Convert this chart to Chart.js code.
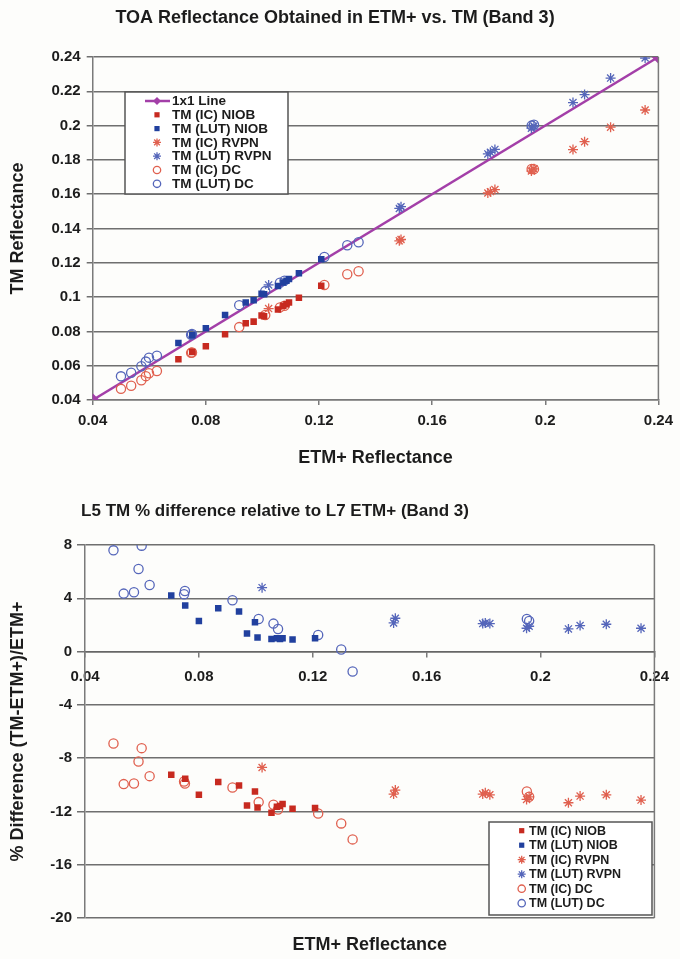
<!DOCTYPE html>
<html>
<head>
<meta charset="utf-8">
<script src="https://cdn.jsdelivr.net/npm/chart.js@4.4.1/dist/chart.umd.min.js"></script>
<style>
  html, body { margin: 0; padding: 0; background: #fdfdfb; }
  canvas { display: block; }
</style>
</head>
<body>
<canvas id="toaChart" width="680" height="490"></canvas>
<canvas id="diffChart" width="680" height="469"></canvas>
<script>
// ---- values ----
const xTicks = [0.04, 0.08, 0.12, 0.16, 0.2, 0.24];
const toaTicks = [0.04, 0.06, 0.08, 0.1, 0.12, 0.14, 0.16, 0.18, 0.2, 0.22, 0.24];
const diffTicks = [-20, -16, -12, -8, -4, 0, 4, 8];

const oneToOneX = [0.04, 0.24];
const oneToOneY = [0.04, 0.24];

// NIOB site
const niobX = [0.0703, 0.0752, 0.0800, 0.0868, 0.0941, 0.0969, 0.0997, 0.1006, 0.1055, 0.1074, 0.1085, 0.1094, 0.1129, 0.1208];
const icNiobY = [0.0638, 0.0680, 0.0714, 0.0783, 0.0847, 0.0857, 0.0892, 0.0888, 0.0927, 0.0949, 0.0959, 0.0969, 0.0996, 0.1066];
const lutNiobY = [0.0733, 0.0778, 0.0818, 0.0896, 0.0969, 0.0982, 0.1019, 0.1016, 0.1065, 0.1085, 0.1095, 0.1105, 0.1139, 0.1220];
const icNiobDiff = [-9.25, -9.55, -10.75, -9.8, -10.05, -11.55, -10.5, -11.7, -12.1, -11.65, -11.6, -11.45, -11.8, -11.75];
const lutNiobDiff = [4.2, 3.45, 2.3, 3.25, 3.0, 1.35, 2.2, 1.05, 0.95, 1.0, 0.95, 1.0, 0.9, 1.0];

// RVPN site
const rvpnX = [0.1022, 0.1484, 0.1490, 0.1797, 0.1806, 0.1822, 0.1951, 0.1960, 0.2098, 0.2139, 0.2231, 0.2353];
const icRvpnY = [0.0933, 0.1328, 0.1336, 0.1607, 0.1615, 0.1627, 0.1735, 0.1748, 0.1860, 0.1906, 0.1991, 0.2091];
const lutRvpnY = [0.1071, 0.1517, 0.1527, 0.1835, 0.1844, 0.1861, 0.1985, 0.1997, 0.2134, 0.2181, 0.2277, 0.2394];
const icRvpnDiff = [-8.7, -10.7, -10.4, -10.7, -10.6, -10.75, -11.1, -10.9, -11.35, -10.85, -10.75, -11.15];
const lutRvpnDiff = [4.8, 2.15, 2.5, 2.1, 2.15, 2.1, 1.75, 1.9, 1.7, 1.95, 2.05, 1.75];

// DC site
const dcX = [0.0500, 0.0536, 0.0572, 0.0588, 0.0599, 0.0627, 0.0748, 0.0751, 0.0918, 0.1010, 0.1062, 0.1078, 0.1219, 0.1300, 0.1340, 0.1952, 0.1960];
const icDcY = [0.0465, 0.0483, 0.0515, 0.0539, 0.0556, 0.0569, 0.0675, 0.0677, 0.0825, 0.0896, 0.0940, 0.0950, 0.1071, 0.1133, 0.1151, 0.1747, 0.1746];
const lutDcY = [0.0538, 0.0559, 0.0597, 0.0624, 0.0647, 0.0658, 0.0780, 0.0785, 0.0953, 0.1035, 0.1084, 0.1096, 0.1234, 0.1302, 0.1320, 0.2000, 0.2005];
const icDcDiff = [-6.9, -9.95, -9.9, -8.25, -7.25, -9.35, -9.75, -9.9, -10.2, -11.3, -11.5, -11.85, -12.15, -12.9, -14.1, -10.5, -10.9];
const lutDcDiff = [7.6, 4.35, 4.45, 6.2, 7.95, 5.0, 4.3, 4.55, 3.85, 2.45, 2.1, 1.7, 1.25, 0.15, -1.5, 2.45, 2.3];

// ---- styling ----
const FONT = '"Liberation Sans", Arial, sans-serif';
const TEXT = '#1c1c1c';
const GRID = '#6f6f6f';
const AXIS = '#7a7a7a';
const RED = '#c72a20';
const BLUE = '#21409e';
const RED_LIGHT = '#e0604f';
const BLUE_LIGHT = '#5566ba';
const LINE = '#a33fa8';

const pts = (xs, ys) => xs.map((x, i) => ({ x: x, y: ys[i] }));
const fmt = v => String(Math.round(v * 100) / 100);
const markerSize = { rect: 4.6, star: 5, circle: 4.6 };

function series(label, data, color, style) {
  const filled = style === 'rect';
  return {
    label: label,
    data: data,
    pointStyle: style,
    pointRadius: markerSize[style],
    pointHoverRadius: markerSize[style],
    borderColor: color,
    backgroundColor: filled ? color : 'rgba(0,0,0,0)',
    borderWidth: filled ? 0 : 1.3
  };
}

// heading, right-hand frame line and the boxed legend inside the plot
const boxLegend = {
  id: 'boxLegend',
  afterDraw(chart, args, o) {
    const ctx = chart.ctx;
    const a = chart.chartArea;
    ctx.save();
    ctx.strokeStyle = AXIS;
    ctx.lineWidth = 1.5;
    ctx.beginPath();
    ctx.moveTo(a.right, a.top);
    ctx.lineTo(a.right, a.bottom);
    ctx.stroke();

    ctx.fillStyle = TEXT;
    ctx.font = 'bold ' + o.titleSize + 'px ' + FONT;
    ctx.textAlign = 'center';
    ctx.textBaseline = 'middle';
    ctx.fillText(o.title, o.titleX, o.titleY);

    ctx.fillStyle = '#ffffff';
    ctx.fillRect(o.x, o.y, o.w, o.h);
    ctx.strokeStyle = '#555';
    ctx.lineWidth = 1.5;
    ctx.strokeRect(o.x, o.y, o.w, o.h);

    ctx.font = 'bold ' + o.size + 'px ' + FONT;
    ctx.textAlign = 'left';
    chart.data.datasets.forEach((ds, i) => {
      const y = o.rowTop + i * o.rowGap;
      ctx.strokeStyle = ds.borderColor;
      ctx.fillStyle = ds.backgroundColor;
      if (ds.showLine) {
        ctx.lineWidth = ds.borderWidth;
        ctx.beginPath();
        ctx.moveTo(o.markX - 12, y);
        ctx.lineTo(o.markX + 13, y);
        ctx.stroke();
        ctx.fillStyle = ds.borderColor;
      }
      ctx.lineWidth = ds.borderWidth;
      Chart.helpers.drawPoint(ctx, {
        pointStyle: ds.pointStyle,
        radius: ds.pointRadius * 0.8,
        rotation: 0,
        borderWidth: ds.showLine ? 0 : ds.borderWidth
      }, o.markX, y);
      ctx.fillStyle = TEXT;
      ctx.fillText(ds.label, o.textX, y + 0.5);
    });
    ctx.restore();
  }
};

const tickFont = { family: FONT, size: 15, weight: 'bold' };
const axisFont = { family: FONT, size: 18, weight: 'bold' };

// ---- top: TM vs ETM+ reflectance ----
new Chart(document.getElementById('toaChart'), {
  type: 'scatter',
  data: {
    datasets: [
      {
        label: '1x1 Line',
        data: pts(oneToOneX, oneToOneY),
        showLine: true,
        borderColor: LINE,
        backgroundColor: LINE,
        borderWidth: 2.5,
        pointStyle: 'rectRot',
        pointRadius: 5,
        order: 10
      },
      series('TM (IC) NIOB', pts(niobX, icNiobY), RED, 'rect'),
      series('TM (LUT) NIOB', pts(niobX, lutNiobY), BLUE, 'rect'),
      series('TM (IC) RVPN', pts(rvpnX, icRvpnY), RED_LIGHT, 'star'),
      series('TM (LUT) RVPN', pts(rvpnX, lutRvpnY), BLUE_LIGHT, 'star'),
      series('TM (IC) DC', pts(dcX, icDcY), RED_LIGHT, 'circle'),
      series('TM (LUT) DC', pts(dcX, lutDcY), BLUE_LIGHT, 'circle')
    ]
  },
  options: {
    responsive: false,
    animation: false,
    layout: { padding: { top: 57, right: 17, left: 0, bottom: 0 } },
    plugins: {
      legend: { display: false },
      tooltip: { enabled: false },
      boxLegend: {
        title: 'TOA Reflectance Obtained in ETM+ vs. TM (Band 3)',
        titleX: 335, titleY: 18, titleSize: 18,
        x: 125, y: 92, w: 163, h: 102,
        rowTop: 101, rowGap: 13.8, markX: 157, textX: 172, size: 13.5
      }
    },
    scales: {
      x: {
        type: 'linear',
        min: 0.04,
        max: 0.24,
        afterBuildTicks: s => { s.ticks = xTicks.map(v => ({ value: v })); },
        afterFit: s => { s.height = 90; },
        grid: { drawOnChartArea: false, tickLength: 5, color: AXIS, lineWidth: 1.5 },
        border: { color: AXIS, width: 1.5 },
        ticks: { font: tickFont, color: TEXT, padding: 7, autoSkip: false, maxRotation: 0, callback: fmt },
        title: { display: true, text: 'ETM+ Reflectance', font: axisFont, color: TEXT, padding: { top: 0, bottom: 21 } }
      },
      y: {
        min: 0.04,
        max: 0.24,
        afterBuildTicks: s => { s.ticks = toaTicks.map(v => ({ value: v })); },
        afterFit: s => { s.width = 92.7; },
        grid: { color: GRID, lineWidth: 1.5, tickLength: 6 },
        border: { color: AXIS, width: 1.5 },
        ticks: { font: tickFont, color: TEXT, padding: 6, autoSkip: false, callback: fmt },
        title: { display: true, text: 'TM Reflectance', font: axisFont, color: TEXT, padding: { top: 7, bottom: 0 } }
      }
    }
  },
  plugins: [boxLegend]
});

// ---- bottom: % difference ----
new Chart(document.getElementById('diffChart'), {
  type: 'scatter',
  data: {
    datasets: [
      series('TM (IC) NIOB', pts(niobX, icNiobDiff), RED, 'rect'),
      series('TM (LUT) NIOB', pts(niobX, lutNiobDiff), BLUE, 'rect'),
      series('TM (IC) RVPN', pts(rvpnX, icRvpnDiff), RED_LIGHT, 'star'),
      series('TM (LUT) RVPN', pts(rvpnX, lutRvpnDiff), BLUE_LIGHT, 'star'),
      series('TM (IC) DC', pts(dcX, icDcDiff), RED_LIGHT, 'circle'),
      series('TM (LUT) DC', pts(dcX, lutDcDiff), BLUE_LIGHT, 'circle')
    ]
  },
  options: {
    responsive: false,
    animation: false,
    layout: { padding: { top: 55, right: 16, left: 0, bottom: 0 } },
    plugins: {
      legend: { display: false },
      tooltip: { enabled: false },
      boxLegend: {
        title: 'L5 TM % difference relative to L7 ETM+ (Band 3)',
        titleX: 275, titleY: 21, titleSize: 17,
        x: 489, y: 332, w: 163, h: 93,
        rowTop: 340.7, rowGap: 14.5, markX: 521.7, textX: 529, size: 12.5
      }
    },
    scales: {
      x: {
        type: 'linear',
        position: { y: 0 },
        min: 0.04,
        max: 0.24,
        afterBuildTicks: s => { s.ticks = xTicks.map(v => ({ value: v })); },
        grid: { drawOnChartArea: false, tickLength: 5, color: AXIS, lineWidth: 1.5 },
        border: { color: '#666', width: 1.5 },
        ticks: { font: tickFont, color: TEXT, padding: 11, autoSkip: false, maxRotation: 0, callback: fmt }
      },
      x2: {
        type: 'linear',
        position: 'bottom',
        min: 0.04,
        max: 0.24,
        afterFit: s => { s.height = 41; },
        grid: { display: false },
        border: { display: false },
        ticks: { display: false },
        title: { display: true, text: 'ETM+ Reflectance', font: axisFont, color: TEXT, padding: { top: 0, bottom: 3 } }
      },
      y: {
        min: -20,
        max: 8,
        afterBuildTicks: s => { s.ticks = diffTicks.map(v => ({ value: v })); },
        afterFit: s => { s.width = 85; },
        grid: { color: GRID, lineWidth: 1.5, tickLength: 8 },
        border: { color: AXIS, width: 1.5 },
        ticks: { font: tickFont, color: TEXT, padding: 5, autoSkip: false, callback: v => String(v) },
        title: { display: true, text: '% Difference (TM-ETM+)/ETM+', font: axisFont, color: TEXT, padding: { top: 7, bottom: 0 } }
      }
    }
  },
  plugins: [boxLegend]
});
</script>
</body>
</html>
